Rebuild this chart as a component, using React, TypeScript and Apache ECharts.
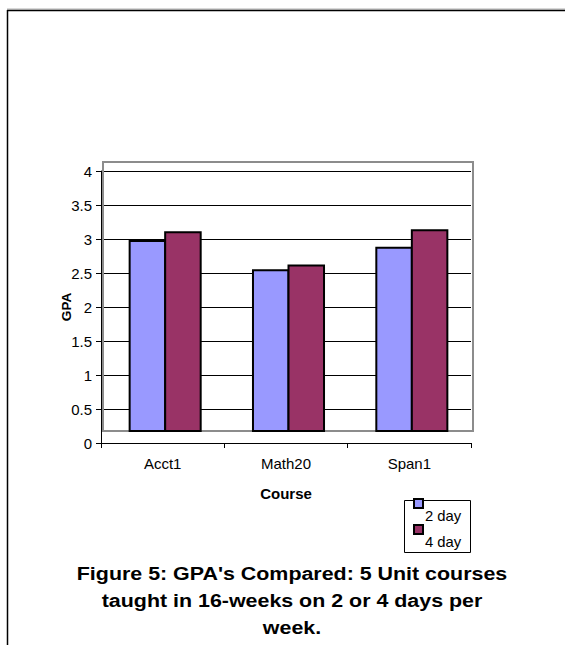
import React, { useEffect, useRef } from "react";
import * as echarts from "echarts";

const categories = ["Acct1", "Math20", "Span1"];
const twoDay = [2.97, 2.54, 2.87];
const fourDay = [3.1, 2.61, 3.13];
const seriesNames = ["2 day", "4 day"];
const seriesColors = ["#9999FF", "#993366"];
const yTicks = { min: 0, max: 4, interval: 0.5 };
const captionLines = [
  "Figure 5: GPA's Compared: 5 Unit courses",
  "taught in 16-weeks on 2 or 4 days per",
  "week.",
];

const FONT = "'Liberation Sans', Arial, sans-serif";

export default function App() {
  const ref = useRef<HTMLDivElement>(null);
  useEffect(() => {
    if (!ref.current) return;
    const chart = echarts.init(ref.current, null, { renderer: "svg" });
    const makeSeries = (s: number, values: number[]) => ({
      type: "custom",
      name: seriesNames[s],
      z: 5,
      data: values.map((v, i) => [i, v]),
      encode: { x: 0, y: 1 },
      renderItem: (params: any, api: any) => {
        const i = api.value(0);
        const v = api.value(1);
        const base = api.coord([i, 0]);
        const top = api.coord([i, v]);
        const band = api.size([1, 0])[0];
        const w = band * 0.288;
        const cx = base[0] + 2.5;
        const x = s === 0 ? cx - w : cx;
        const bottom = base[1] - 12;
        return {
          type: "rect",
          shape: { x, y: top[1], width: w, height: bottom - top[1] },
          style: { fill: seriesColors[s], stroke: "#000", lineWidth: 2 },
        };
      },
    });
    const legendItems: any[] = [];
    seriesNames.forEach((n, s) => {
      legendItems.push({
        type: "rect",
        shape: { x: 414, y: 499 + s * 26, width: 9, height: 9 },
        style: { fill: seriesColors[s], stroke: "#000", lineWidth: 2 },
        z: 20,
      });
      legendItems.push({
        type: "text",
        x: 425,
        y: 516 + s * 26,
        scaleX: 1.06,
        style: {
          text: n,
          font: `14px ${FONT}`,
          fill: "#000",
          textAlign: "left",
          textVerticalAlign: "middle",
        },
        z: 20,
      });
    });
    chart.setOption({
      animation: false,
      backgroundColor: "#fff",
      grid: { left: 101, right: 94, top: 171, bottom: 202, containLabel: false },
      xAxis: {
        type: "category",
        data: categories,
        name: "Course",
        nameLocation: "middle",
        nameGap: 43,
        nameMoveOverlap: false,
        nameTextStyle: { fontFamily: FONT, fontSize: 15, fontWeight: "bold", color: "#000" },
        axisLine: { show: true, lineStyle: { color: "#000", width: 1 } },
        axisTick: { show: true, length: 5, lineStyle: { color: "#000" } },
        axisLabel: { fontFamily: FONT, fontSize: 15, color: "#000", margin: 13 },
        splitLine: { show: false },
      },
      yAxis: {
        type: "value",
        min: yTicks.min,
        max: yTicks.max,
        interval: yTicks.interval,
        name: "GPA",
        nameLocation: "middle",
        nameGap: 28,
        nameMoveOverlap: false,
        nameRotate: 90,
        nameTextStyle: { fontFamily: FONT, fontSize: 13.5, fontWeight: "bold", color: "#000" },
        axisLine: { show: true, lineStyle: { color: "#000", width: 1 } },
        axisTick: { show: true, length: 5, lineStyle: { color: "#000" } },
        axisLabel: { fontFamily: FONT, fontSize: 15, color: "#000", margin: 9 },
        splitLine: { show: true, lineStyle: { color: "#000", width: 1 } },
      },
      series: [makeSeries(0, twoDay), makeSeries(1, fourDay)],
      graphic: [
        { type: "line", shape: { x1: 7, y1: 9, x2: 565, y2: 9 }, style: { stroke: "#b0b0b0", lineWidth: 1 } },
        { type: "line", shape: { x1: 7, y1: 10.5, x2: 565, y2: 10.5 }, style: { stroke: "#000", lineWidth: 1.5 } },
        { type: "line", shape: { x1: 7.5, y1: 10, x2: 7.5, y2: 645 }, style: { stroke: "#000", lineWidth: 1.5 } },
        {
          type: "rect",
          shape: { x: 103, y: 162, width: 370, height: 269 },
          style: { fill: "none", stroke: "#8c8c8c", lineWidth: 2 },
          z: 1,
        },
        {
          type: "rect",
          shape: { x: 404.5, y: 500.5, width: 66, height: 52 },
          style: { fill: "#fff", stroke: "#000", lineWidth: 1 },
          z: 10,
        },
        ...legendItems,
        ...captionLines.map((t, k) => ({
          type: "text",
          x: 292,
          y: 574 + k * 27,
          scaleX: 1.19,
          style: {
            text: t,
            font: `bold 18px ${FONT}`,
            fill: "#000",
            textAlign: "center",
            textVerticalAlign: "middle",
          },
        })),
      ],
    });
    return () => chart.dispose();
  }, []);
  return (
    <div
      ref={ref}
      style={{ position: "absolute", left: 0, top: 0, width: 565, height: 645 }}
    />
  );
}
